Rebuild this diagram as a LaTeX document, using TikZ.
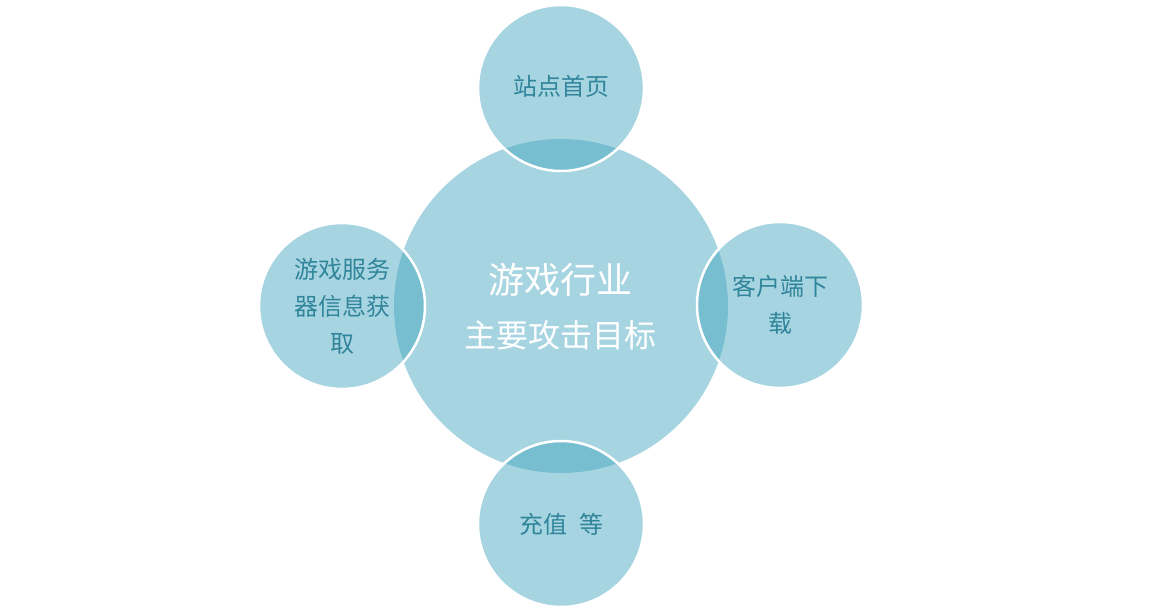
\documentclass[tikz,border=0pt]{standalone}
\usepackage{fontspec}
\newfontfamily\cjk{Noto Sans CJK SC}
\definecolor{circfill}{RGB}{66,165,191}
\definecolor{smalltext}{RGB}{49,133,155}
\tikzset{
  bigcirc/.style={circle, inner sep=0pt, fill=circfill, fill opacity=0.47, draw=none},
  smallcirc/.style={circle, inner sep=0pt, minimum size=166pt, fill=circfill, fill opacity=0.47, draw=white, draw opacity=1, line width=2.5pt},
  smalllabel/.style={text=smalltext, align=center, font=\cjk\fontsize{24pt}{37pt}\selectfont},
  titlelabel/.style={text=white, font=\cjk\fontsize{36pt}{40pt}\selectfont},
  sublabel/.style={text=white, font=\cjk\fontsize{32pt}{36pt}\selectfont}
}
\begin{document}
\begin{tikzpicture}[x=1pt,y=-1pt]
\useasboundingbox (0,0) rectangle (1158,612);
\node[bigcirc, minimum size=334pt] (center) at (561,306) {};
\node[smallcirc] (top) at (561,88) {};
\node[smallcirc] (left) at (342,306) {};
\node[smallcirc] (right) at (780,305) {};
\node[smallcirc] (bottom) at (561,524) {};
\node[titlelabel] (ctitle) at (560,280) {游戏行业};
\node[sublabel] (csub) at (560,335) {主要攻击目标};
\node[smalllabel] (ttop) at (561,86) {站点首页};
\node[smalllabel] (tleft) at (left) {游戏服务\\器信息获\\取};
\node[smalllabel] (tright) at (right) {客户端下\\载};
\node[smalllabel] (tbottom) at (bottom) {充值\hspace{12pt}等};
\end{tikzpicture}
\end{document}
